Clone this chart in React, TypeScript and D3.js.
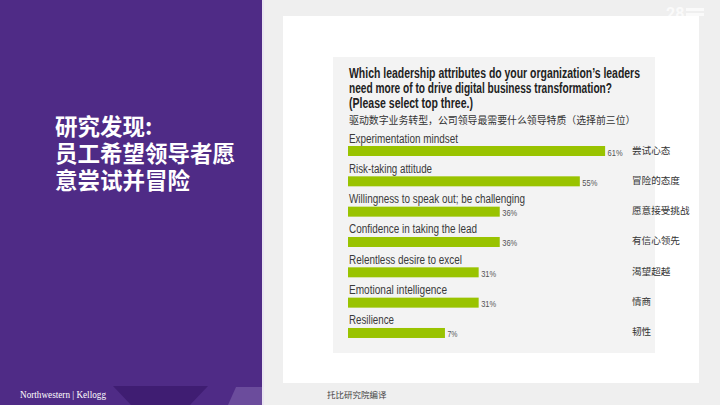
import React from "react";
import * as d3 from "d3";

const categories = [
  "Experimentation mindset",
  "Risk-taking attitude",
  "Willingness to speak out; be challenging",
  "Confidence in taking the lead",
  "Relentless desire to excel",
  "Emotional intelligence",
  "Resilience",
];
const categoriesZh = ["尝试心态", "冒险的态度", "愿意接受挑战", "有信心领先", "渴望超越", "情商", "韧性"];
// bar lengths as drawn
const values = [61, 55, 36, 36, 31, 31, 23];
// value labels as printed
const valueLabels = ["61%", "55%", "36%", "36%", "31%", "31%", "7%"];

const titleLines = [
  "Which leadership attributes do your organization\u2019s leaders",
  "need more of to drive digital business transformation?",
  "(Please select top three.)",
];
const subtitleZh = "驱动数字业务转型，公司领导最需要什么领导特质（选择前三位）";
const leftTitle = ["研究发现:", "员工希望领导者愿", "意尝试并冒险"];
const sourceText = "托比研究院编译";
const brandText = "Northwestern | Kellogg";

// layout: rendered widths of condensed texts (px)
const titleWidths = [291, 263, 124];
const labelWidths = [109, 83, 176, 128, 113, 98, 45];
const valueLabelWidths = [15, 15, 15, 15, 15, 15, 10];

const W = 720;
const H = 405;
const sans = '"Liberation Sans", Arial, sans-serif';
const cjk = '"Noto Sans CJK SC", sans-serif';

export default function App() {
  const x = d3.scaleLinear().domain([0, 100]).range([348, 348 + 421.5]);
  const y = d3.scaleBand<string>().domain(categories).range([140.5, 140.5 + 7 * 30.33]).padding(0);
  const barH = 10;
  const barOff = 5.5;

  return (
    <svg
      width={W}
      height={H}
      style={{ position: "fixed", left: 0, top: 0, display: "block" }}
      xmlns="http://www.w3.org/2000/svg"
    >
      {/* backgrounds */}
      <rect x={0} y={0} width={W} height={H} fill="#efefef" />
      <rect x={0} y={0} width={262} height={H} fill="#4f2b86" />
      <polygon points="113,386 208,386 190,405 131,405" fill="#3f1d72" />
      <polygon points="236,387 262,387 262,405 228,405" fill="#6b4c9c" />
      <rect x={262} y={0} width={2} height={H} fill="#e9e4f0" />
      <text
        x={20}
        y={398}
        fill="#ffffff"
        fontFamily='"Liberation Serif", "DejaVu Serif", serif'
        fontSize={9.5}
        textLength={86}
        lengthAdjust="spacingAndGlyphs"
      >
        {brandText}
      </text>

      {/* left title */}
      {leftTitle.map((t, i) => (
        <text
          key={i}
          x={55}
          y={135 + i * 27}
          fill="#ffffff"
          fontFamily={cjk}
          fontWeight={700}
          fontSize={22.5}
        >
          {t}
        </text>
      ))}

      {/* faint logo top right */}
      <g opacity={0.7}>
        <text x={666} y={19} fill="#ffffff" fontFamily="Roboto, sans-serif" fontWeight={700} fontSize={16}>
          28
        </text>
        <rect x={686} y={8} width={18} height={3} fill="#ffffff" />
        <rect x={686} y={13} width={18} height={3} fill="#ffffff" />
      </g>

      {/* white card */}
      <rect x={283} y={16} width={416} height={367} fill="#ffffff" />
      {/* chart gray box */}
      <rect x={333} y={57} width={322} height={296} fill="#f3f3f3" />

      {/* title */}
      {titleLines.map((t, i) => (
        <text
          key={i}
          x={349}
          y={77.5 + i * 15}
          fill="#222222"
          fontFamily={sans}
          fontWeight={700}
          fontSize={14.5}
          textLength={titleWidths[i]}
          lengthAdjust="spacingAndGlyphs"
        >
          {t}
        </text>
      ))}
      <text x={349} y={124} fill="#333333" fontFamily={cjk} fontSize={9.9}>
        {subtitleZh}
      </text>

      {/* bars */}
      {categories.map((c, i) => {
        const top = (y(c) as number) + barOff;
        return (
          <g key={c}>
            <text
              x={349}
              y={top - 3.5}
              fill="#3a3a3a"
              fontFamily={sans}
              fontSize={12.5}
              textLength={labelWidths[i]}
              lengthAdjust="spacingAndGlyphs"
            >
              {c}
            </text>
            <rect x={x(0)} y={top} width={x(values[i]) - x(0)} height={barH} fill="#99c300" />
            <text
              x={x(values[i]) + 2.5}
              y={top + barH - 0.5}
              fill="#555555"
              fontFamily={sans}
              fontSize={9}
              textLength={valueLabelWidths[i]}
              lengthAdjust="spacingAndGlyphs"
            >
              {valueLabels[i]}
            </text>
            <text
              x={632}
              y={top + barH / 2 + 2.5}
              fill="#333333"
              fontFamily={cjk}
              fontSize={9.6}
            >
              {categoriesZh[i]}
            </text>
          </g>
        );
      })}

      {/* source */}
      <text x={327} y={398} fill="#444444" fontFamily={cjk} fontSize={8.5}>
        {sourceText}
      </text>
    </svg>
  );
}
